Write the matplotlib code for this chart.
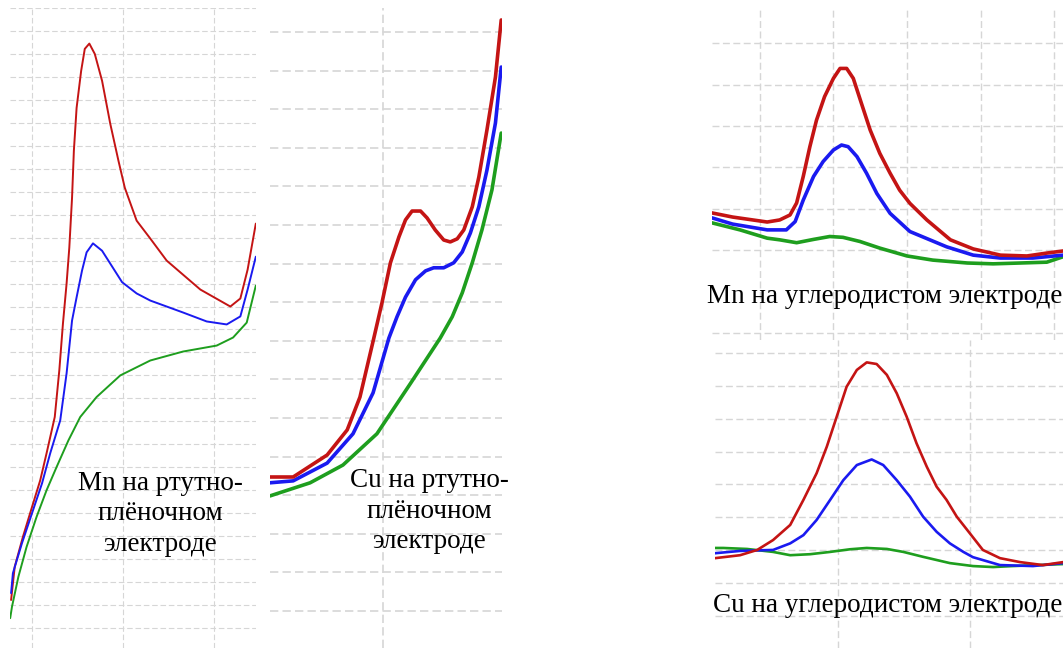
import matplotlib.pyplot as plt

W, H = 1063, 648

RED = "#c41414"
BLUE = "#1a1af0"
GREEN = "#1e9e1e"
GRID = "#d6d6d6"

# --- Mn, mercury-film electrode (grid units) ---
mn_hg_red_x = [-0.23, -0.19, -0.10, 0.00, 0.09, 0.16, 0.25, 0.30, 0.34, 0.38, 0.41, 0.44, 0.46, 0.49, 0.54, 0.58,
               0.63, 0.69, 0.77, 0.86, 0.95, 1.02, 1.15, 1.30, 1.48, 1.85, 2.18, 2.29, 2.37, 2.46]
mn_hg_red_y = [1.22, 2.67, 3.97, 5.27, 6.43, 7.61, 9.19, 11.22, 13.26, 15.0, 16.57, 18.74, 20.78, 22.65, 24.26, 25.22,
               25.45, 25.0, 23.83, 21.96, 20.35, 19.17, 17.74, 16.96, 16.0, 14.74, 14.0, 14.35, 15.61, 17.61]
mn_hg_blue_x = [-0.23, -0.21, -0.11, 0.00, 0.11, 0.20, 0.31, 0.38, 0.44, 0.49, 0.55, 0.60, 0.67, 0.77, 0.86, 0.99,
                1.15, 1.30, 1.66, 1.92, 2.14, 2.29, 2.37, 2.46]
mn_hg_blue_y = [1.52, 2.39, 3.70, 5.0, 6.30, 7.61, 9.04, 11.09, 13.39, 14.40, 15.57, 16.36, 16.75, 16.43, 15.87, 15.06,
                14.57, 14.26, 13.74, 13.35, 13.22, 13.57, 14.74, 16.17]
mn_hg_green_x = [-0.24, -0.22, -0.15, -0.06, 0.05, 0.16, 0.27, 0.40, 0.53, 0.71, 0.97, 1.30, 1.66, 2.03, 2.21, 2.36, 2.46]
mn_hg_green_y = [0.43, 0.93, 2.23, 3.53, 4.84, 6.0, 7.01, 8.17, 9.19, 10.06, 11.0, 11.65, 12.04, 12.30, 12.65, 13.30, 14.91]

# --- Cu, mercury-film electrode ---
cu_hg_red_x = [-2.93, -2.33, -1.45, -0.93, -0.60, -0.24, -0.03, 0.19, 0.41, 0.58, 0.75, 0.97, 1.14, 1.35, 1.57, 1.74,
               1.92, 2.09, 2.31, 2.48, 2.69, 2.91, 3.06]
cu_hg_red_y = [3.47, 3.47, 4.04, 4.69, 5.54, 7.07, 7.98, 9.02, 9.69, 10.13, 10.36, 10.36, 10.18, 9.87, 9.61, 9.56,
               9.64, 9.87, 10.47, 11.24, 12.46, 13.83, 15.31]
cu_hg_blue_x = [-2.93, -2.33, -1.45, -0.78, -0.26, 0.15, 0.36, 0.58, 0.84, 1.10, 1.31, 1.57, 1.83, 2.05, 2.26, 2.48,
                2.69, 2.91, 3.06]
cu_hg_blue_y = [3.32, 3.37, 3.83, 4.59, 5.65, 7.07, 7.62, 8.13, 8.58, 8.81, 8.89, 8.89, 9.02, 9.30, 9.79, 10.47,
                11.42, 12.64, 14.09]
cu_hg_green_x = [-2.93, -1.89, -1.04, -0.16, 0.70, 1.48, 1.79, 2.05, 2.31, 2.56, 2.82, 3.06]
cu_hg_green_y = [2.98, 3.32, 3.78, 4.59, 5.88, 7.07, 7.62, 8.24, 9.02, 9.87, 10.91, 12.38]

# --- Mn, carbon electrode ---
mn_c_red_x = [-0.65, -0.37, 0.10, 0.27, 0.41, 0.50, 0.59, 0.68, 0.77, 0.88, 1.00, 1.09, 1.18, 1.27, 1.38, 1.50, 1.63,
              1.77, 1.90, 2.04, 2.27, 2.59, 2.90, 3.27, 3.63, 3.90, 4.12]
mn_c_red_y = [2.90, 2.80, 2.68, 2.73, 2.85, 3.14, 3.78, 4.50, 5.14, 5.71, 6.15, 6.39, 6.39, 6.15, 5.55, 4.90, 4.34,
              3.86, 3.45, 3.13, 2.73, 2.25, 2.03, 1.88, 1.86, 1.93, 1.98]
mn_c_blue_x = [-0.65, -0.37, 0.10, 0.36, 0.48, 0.59, 0.73, 0.86, 1.00, 1.11, 1.20, 1.32, 1.45, 1.59, 1.77, 2.04, 2.54,
               2.90, 3.27, 3.71, 4.12]
mn_c_blue_y = [2.78, 2.63, 2.49, 2.49, 2.69, 3.21, 3.78, 4.14, 4.42, 4.54, 4.50, 4.26, 3.86, 3.37, 2.89, 2.45, 2.08,
               1.88, 1.81, 1.81, 1.88]
mn_c_green_x = [-0.65, -0.27, 0.10, 0.27, 0.50, 0.73, 0.95, 1.13, 1.36, 1.63, 2.00, 2.35, 2.82, 3.17, 3.54, 3.90, 4.12]
mn_c_green_y = [2.66, 2.49, 2.29, 2.25, 2.18, 2.26, 2.33, 2.31, 2.21, 2.05, 1.86, 1.76, 1.69, 1.67, 1.69, 1.71, 1.84]

# --- Cu, carbon electrode ---
cu_c_red_x = [-3.73, -2.97, -2.45, -1.97, -1.45, -1.05, -0.65, -0.34, -0.04, 0.26, 0.57, 0.87, 1.17, 1.48, 1.78, 2.08,
              2.38, 2.69, 2.99, 3.29, 3.60, 4.00, 4.39, 4.91, 5.52, 6.21, 6.82]
cu_c_red_y = [1.76, 1.85, 2.01, 2.31, 2.77, 3.53, 4.34, 5.15, 6.06, 6.97, 7.48, 7.71, 7.66, 7.33, 6.77, 6.06,
              5.25, 4.54, 3.93, 3.53, 3.02, 2.51, 2.01, 1.76, 1.64, 1.55, 1.64]
cu_c_blue_x = [-3.73, -2.97, -1.97, -1.45, -1.05, -0.65, -0.24, 0.16, 0.57, 1.02, 1.37, 1.78, 2.18, 2.58, 2.99, 3.39,
               3.80, 4.09, 4.91, 5.91, 6.82]
cu_c_blue_y = [1.91, 1.98, 2.01, 2.21, 2.46, 2.92, 3.53, 4.13, 4.59, 4.76, 4.59, 4.13, 3.63, 3.02, 2.56, 2.21,
               1.95, 1.79, 1.55, 1.52, 1.61]
cu_c_green_x = [-3.73, -3.48, -2.76, -1.97, -1.45, -0.85, -0.24, 0.36, 0.87, 1.48, 1.98, 2.58, 3.39, 4.09, 4.70, 5.30, 6.82]
cu_c_green_y = [2.07, 2.07, 2.04, 1.95, 1.85, 1.88, 1.95, 2.03, 2.07, 2.04, 1.95, 1.80, 1.61, 1.52, 1.49, 1.52, 1.58]

labels = [
    "Mn на ртутно-\nплёночном\nэлектроде",
    "Cu на ртутно-\nплёночном\nэлектроде",
    "Mn на углеродистом электроде",
    "Cu на углеродистом электроде",
]

# panel boxes in pixels: left, top, right, bottom
panels = [
    dict(box=(10, 8, 256, 648), xlim=(-0.242, 2.462), ylim=(-0.87, 26.96),
         xt=[0, 1, 2], yt=list(range(0, 28)), lw=1.4, glw=0.8,
         series=[(mn_hg_red_x, mn_hg_red_y, RED), (mn_hg_blue_x, mn_hg_blue_y, BLUE),
                 (mn_hg_green_x, mn_hg_green_y, GREEN)],
         text=(160, 514)),
    dict(box=(270, 8, 502, 648), xlim=(-2.93, 3.08), ylim=(-0.96, 15.62),
         xt=[0], yt=list(range(0, 16)), lw=2.6, glw=1.2,
         series=[(cu_hg_green_x, cu_hg_green_y, GREEN), (cu_hg_blue_x, cu_hg_blue_y, BLUE),
                 (cu_hg_red_x, cu_hg_red_y, RED)],
         text=(429, 511)),
    dict(box=(712, 8, 1063, 340), xlim=(-0.65, 4.12), ylim=(-0.17, 7.85),
         xt=[0, 1, 2, 3, 4], yt=[0, 2, 3, 4, 5, 6, 7], lw=2.6, glw=1.0,
         series=[(mn_c_green_x, mn_c_green_y, GREEN), (mn_c_blue_x, mn_c_blue_y, BLUE),
                 (mn_c_red_x, mn_c_red_y, RED)],
         text=(885, 297)),
    dict(box=(715, 340, 1063, 648), xlim=(-3.73, 6.82), ylim=(-0.97, 8.39),
         xt=[0, 4], yt=list(range(0, 9)), lw=1.9, glw=1.0,
         series=[(cu_c_green_x, cu_c_green_y, GREEN), (cu_c_blue_x, cu_c_blue_y, BLUE),
                 (cu_c_red_x, cu_c_red_y, RED)],
         text=(888, 606)),
]

fig = plt.figure(figsize=(W / 100, H / 100), dpi=100)
fig.patch.set_facecolor("white")

for p, label in zip(panels, labels):
    l, t, r, b = p["box"]
    ax = fig.add_axes([l / W, 1 - b / H, (r - l) / W, (b - t) / H])
    ax.set_facecolor("none")
    for x, y, c in p["series"]:
        ax.plot(x, y, color=c, lw=p["lw"], solid_joinstyle="round", solid_capstyle="round")
    ax.set_xlim(*p["xlim"])
    ax.set_ylim(*p["ylim"])
    ax.set_xticks(p["xt"])
    ax.set_yticks(p["yt"])
    ax.grid(True, color=GRID, lw=p["glw"], linestyle=(0, (5, 2.5)))
    ax.set_axisbelow(True)
    ax.tick_params(length=0, labelleft=False, labelbottom=False)
    for s in ax.spines.values():
        s.set_visible(False)
    tx, ty = p["text"]
    fig.text(tx / W, 1 - ty / H, label, ha="center", va="center", multialignment="center",
             fontsize=19.5, family="Liberation Serif", color="black", linespacing=1.27)

fig.savefig("out.png", dpi=100)
